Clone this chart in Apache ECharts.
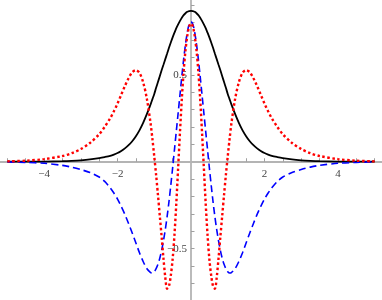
<!DOCTYPE html>
<html>
<head>
<meta charset="utf-8">
<script src="https://cdn.jsdelivr.net/npm/echarts@6/dist/echarts.min.js"></script>
<style>
html,body{margin:0;padding:0;background:#fff;}
#chart{width:382px;height:300px;}
</style>
</head>
<body>
<div id="chart"></div>
<script>
// x positions of the sampled points
var xValues = [-5, -4.5, -4, -3.5, -3.25, -3, -2.75, -2.5, -2.35, -2.2, -2.1, -2, -1.9, -1.8, -1.7, -1.6, -1.5, -1.4, -1.3, -1.2, -1.1, -1.05, -1, -0.95, -0.9, -0.85, -0.8, -0.75, -0.7, -0.65, -0.6, -0.55, -0.5, -0.45, -0.4, -0.35, -0.3, -0.25, -0.2, -0.15, -0.1, -0.05, 0,
  0.05, 0.1, 0.15, 0.2, 0.25, 0.3, 0.35, 0.4, 0.45, 0.5, 0.55, 0.6, 0.65, 0.7, 0.75, 0.8, 0.85, 0.9, 0.95, 1, 1.05, 1.1, 1.2, 1.3, 1.4, 1.5, 1.6, 1.7, 1.8, 1.9, 2, 2.1, 2.2, 2.35, 2.5, 2.75, 3, 3.25, 3.5, 4, 4.5, 5];

// black solid curve
var blackValues = [0.0001, 0.0004, 0.001, 0.003, 0.005, 0.008, 0.013, 0.021, 0.027, 0.034, 0.041, 0.05, 0.062, 0.077, 0.095, 0.118, 0.147, 0.182, 0.225, 0.275, 0.33, 0.36, 0.39, 0.425, 0.458, 0.492, 0.526, 0.558, 0.59, 0.622, 0.655, 0.686, 0.715, 0.742, 0.768, 0.79, 0.81, 0.828, 0.843, 0.854, 0.862, 0.866, 0.868,
  0.866, 0.862, 0.854, 0.843, 0.828, 0.81, 0.79, 0.768, 0.742, 0.715, 0.686, 0.655, 0.622, 0.59, 0.558, 0.526, 0.492, 0.458, 0.425, 0.39, 0.36, 0.33, 0.275, 0.225, 0.182, 0.147, 0.118, 0.095, 0.077, 0.062, 0.05, 0.041, 0.034, 0.027, 0.021, 0.013, 0.008, 0.005, 0.003, 0.001, 0.0004, 0.0001];

// blue dashed curve
var blueValues = [-0.0015, -0.004, -0.009, -0.021, -0.031, -0.045, -0.062, -0.088, -0.113, -0.15, -0.18, -0.215, -0.257, -0.303, -0.355, -0.41, -0.467, -0.525, -0.575, -0.615, -0.637, -0.64, -0.632, -0.615, -0.59, -0.555, -0.51, -0.455, -0.39, -0.315, -0.23, -0.135, -0.035, 0.07, 0.175, 0.28, 0.385, 0.49, 0.59, 0.675, 0.745, 0.79, 0.805,
  0.79, 0.745, 0.675, 0.59, 0.49, 0.385, 0.28, 0.175, 0.07, -0.035, -0.135, -0.23, -0.315, -0.39, -0.455, -0.51, -0.555, -0.59, -0.615, -0.632, -0.64, -0.637, -0.615, -0.575, -0.525, -0.467, -0.41, -0.355, -0.303, -0.257, -0.215, -0.18, -0.15, -0.113, -0.088, -0.062, -0.045, -0.031, -0.021, -0.009, -0.004, -0.0015];

// red dotted curve
var redValues = [0.002, 0.006, 0.015, 0.033, 0.049, 0.073, 0.108, 0.158, 0.2, 0.25, 0.29, 0.335, 0.385, 0.435, 0.48, 0.515, 0.527, 0.51, 0.455, 0.36, 0.22, 0.13, 0.03, -0.075, -0.19, -0.31, -0.43, -0.555, -0.665, -0.73, -0.715, -0.655, -0.56, -0.42, -0.24, -0.035, 0.17, 0.36, 0.52, 0.64, 0.725, 0.778, 0.795,
  0.778, 0.725, 0.64, 0.52, 0.36, 0.17, -0.035, -0.24, -0.42, -0.56, -0.655, -0.715, -0.73, -0.665, -0.555, -0.43, -0.31, -0.19, -0.075, 0.03, 0.13, 0.22, 0.36, 0.455, 0.51, 0.527, 0.515, 0.48, 0.435, 0.385, 0.335, 0.29, 0.25, 0.2, 0.158, 0.108, 0.073, 0.049, 0.033, 0.015, 0.006, 0.002];

// tick positions and labelled ticks
var xTicks = [-5, -4.5, -4, -3.5, -3, -2.5, -2, -1.5, -1, -0.5, 0.5, 1, 1.5, 2, 2.5, 3, 3.5, 4, 4.5, 5];
var yTicks = [-0.7, -0.6, -0.5, -0.4, -0.3, -0.2, -0.1, 0.1, 0.2, 0.3, 0.4, 0.5, 0.6, 0.7, 0.8, 0.9];
var xTickLabels = [-4, -2, 2, 4];
var yTickLabels = [-0.5, 0.5];

var X_MIN = -5.2, X_MAX = 5.2, Y_MIN = -0.795, Y_MAX = 0.93;
var W = 382, H = 300;

function pairs(ys) {
  return xValues.map(function (x, i) { return [x, ys[i]]; });
}
function fmt(v) {
  var s = String(Math.round(v * 10) / 10);
  return s.replace('-', '\u2212');
}

// shift the axes (with their labels) to cross at the origin
var xAxisOffset = -(0 - Y_MIN) / (Y_MAX - Y_MIN) * H;
var yAxisOffset = -(0 - X_MIN) / (X_MAX - X_MIN) * W;

var chart = echarts.init(document.getElementById('chart'), null, {renderer: 'canvas'});
chart.setOption({
  animation: false,
  backgroundColor: '#ffffff',
  grid: {left: 0, right: 0, top: 0, bottom: 0, containLabel: false, outerBoundsMode: 'none'},
  xAxis: {
    type: 'value', min: X_MIN, max: X_MAX, position: 'bottom', offset: xAxisOffset,
    axisLine: {onZero: false, lineStyle: {color: '#b4b4b4', width: 1.8}},
    axisTick: {show: true, inside: true, length: 3.5, customValues: xTicks, lineStyle: {color: '#a0a0a0', width: 1}},
    splitLine: {show: false},
    axisLabel: {
      show: true, margin: 7, color: '#444', fontFamily: 'Liberation Serif', fontSize: 11,
      customValues: xTickLabels, hideOverlap: false,
      formatter: function (v) { return fmt(v); }
    }
  },
  yAxis: {
    type: 'value', min: Y_MIN, max: Y_MAX, position: 'left', offset: yAxisOffset,
    axisLine: {onZero: false, lineStyle: {color: '#b4b4b4', width: 1.8}},
    axisTick: {show: true, inside: true, length: 3.5, customValues: yTicks, lineStyle: {color: '#a0a0a0', width: 1}},
    splitLine: {show: false},
    axisLabel: {
      show: true, margin: 4, color: '#444', fontFamily: 'Liberation Serif', fontSize: 11,
      customValues: yTickLabels, hideOverlap: false,
      formatter: function (v) { return fmt(v); }
    }
  },
  series: [
    {type: 'line', data: pairs(blackValues), showSymbol: false, smooth: 0.3,
     lineStyle: {color: '#000000', width: 1.8}},
    {type: 'line', data: pairs(blueValues), showSymbol: false, smooth: 0.3,
     lineStyle: {color: '#0000ff', width: 1.6, type: [7, 4]}},
    {type: 'line', data: pairs(redValues), showSymbol: false, smooth: 0.3,
     lineStyle: {color: '#ff0000', width: 2.4, type: [2.5, 2.5], cap: 'butt'}}
  ]
});
</script>
</body>
</html>
